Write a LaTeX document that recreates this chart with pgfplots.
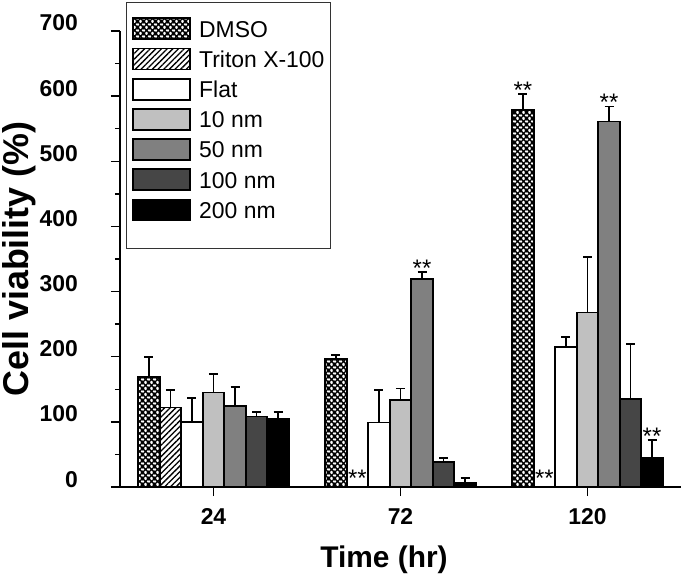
\documentclass[border=0pt]{standalone}
\usepackage{pgfplots}
\pgfplotsset{compat=1.18}
\usepackage{fontspec}
\setmainfont{Liberation Sans}
\usetikzlibrary{patterns.meta}
\pgfdeclarepattern{
  name=dmso,
  type=uncolored,
  bottom left={\pgfpoint{0bp}{0bp}},
  top right={\pgfpoint{5.5bp}{5.5bp}},
  tile size={\pgfpoint{5.5bp}{5.5bp}},
  code={
    \pgfsetlinewidth{1.5bp}
    \pgfpathmoveto{\pgfpoint{-1bp}{-1bp}}\pgfpathlineto{\pgfpoint{6.5bp}{6.5bp}}
    \pgfpathmoveto{\pgfpoint{-6.5bp}{-1bp}}\pgfpathlineto{\pgfpoint{1bp}{6.5bp}}
    \pgfpathmoveto{\pgfpoint{4.5bp}{-1bp}}\pgfpathlineto{\pgfpoint{12bp}{6.5bp}}
    \pgfpathmoveto{\pgfpoint{-1bp}{6.5bp}}\pgfpathlineto{\pgfpoint{6.5bp}{-1bp}}
    \pgfpathmoveto{\pgfpoint{-6.5bp}{6.5bp}}\pgfpathlineto{\pgfpoint{1bp}{-1bp}}
    \pgfpathmoveto{\pgfpoint{4.5bp}{6.5bp}}\pgfpathlineto{\pgfpoint{12bp}{-1bp}}
    \pgfusepath{stroke}
  }
}
\definecolor{g10}{HTML}{C0C0C0}
\definecolor{g50}{HTML}{808080}
\definecolor{g100}{HTML}{464646}
\pgfplotsset{
  lastlegend/.style={legend image code/.code={\draw[##1] (0bp,-10bp) rectangle (57bp,11bp); \path (0bp,-22bp);}},
}
\begin{document}
\begin{tikzpicture}
\useasboundingbox (-120bp,-91bp) rectangle (565bp,487bp);
\begin{axis}[
  at={(0,0)}, anchor=south west,
  scale only axis, width=561bp, height=456bp,
  ybar, bar width=0.115,
  xmin=-0.5, xmax=2.5, ymin=0, ymax=700,
  axis x line*=bottom, axis y line*=left,
  axis line style={line width=1.5bp, black},
  xtick={0,1,2}, xticklabels={24,72,120},
  ytick={0,100,...,700}, minor y tick num=1,
  tick align=outside, major tick length=9bp, minor tick length=5bp,
  tick style={line width=1.4bp, black},
  /pgf/number format/assume math mode=true,
  ticklabel style={font=\bfseries\fontsize{23}{23}\selectfont, inner sep=0pt},
  yticklabel style={anchor=base east, xshift=-33bp},
  xticklabel style={yshift=-12bp},
  xlabel={\bfseries Time (hr)},
  ylabel={\bfseries Cell viability (\%)},
  xlabel style={font=\fontsize{30}{30}\selectfont, at={(axis description cs:0.4706,-0.16)}, anchor=center},
  ylabel style={font=\fontsize{36}{36}\selectfont, at={(axis description cs:-0.18,0.5)}, anchor=center},
  every axis plot/.append style={draw=black, line width=1.7bp},
  legend image code/.code={\draw[#1] (0bp,-10bp) rectangle (57bp,11bp);},
  legend cell align=left,
  legend style={at={(0,1)}, anchor=north west, xshift=6bp, yshift=29bp,
    draw=black!80, line width=1bp, inner xsep=6bp, inner ysep=15bp,
    font=\fontsize{23}{23}\selectfont, row sep=7.5bp, column sep=8bp,
    nodes={inner sep=0pt, text height=16bp, text depth=0.5bp}},
  error bars/y dir=plus,
  error bars/y explicit,
  error bars/error mark=-,
  error bars/error bar style={line width=1.7bp, black, solid},
  error bars/error mark options={rotate=90, line width=1.7bp, black, mark size=4.5bp, solid},
]
\addplot[bar shift=-0.345, pattern=dmso, pattern color=black]
  table[x=x, y=y, y error=e] {
x y e
0 169 31
1 196 7
2 579 24
};
\addlegendentry{DMSO}
\addplot[bar shift=-0.23, pattern={Lines[angle=45, distance=4bp, line width=1.3bp]}, pattern color=black]
  table[x=x, y=y, y error=e] {
x y e
0 122 27
};
\addlegendentry{Triton X-100}
\addplot[bar shift=-0.115, fill=white]
  table[x=x, y=y, y error=e] {
x y e
0 100 37
1 99 50
2 215 15
};
\addlegendentry{Flat}
\addplot[bar shift=0, fill=g10]
  table[x=x, y=y, y error=e] {
x y e
0 145 29
1 134 17
2 268 85
};
\addlegendentry{10 nm}
\addplot[bar shift=0.115, fill=g50]
  table[x=x, y=y, y error=e] {
x y e
0 124 29
1 319 11
2 561 23
};
\addlegendentry{50 nm}
\addplot[bar shift=0.23, fill=g100]
  table[x=x, y=y, y error=e] {
x y e
0 108 7
1 38 6.5
2 135 84.5
};
\addlegendentry{100 nm}
\addplot[bar shift=0.345, fill=black, lastlegend]
  table[x=x, y=y, y error=e] {
x y e
0 104 11.5
1 7 7
2 45 27
};
\addlegendentry{200 nm}
\begin{scope}[every node/.style={font=\fontsize{24}{24}\selectfont, inner sep=0pt, anchor=base}]
\node[yshift=-4bp] at (axis cs:1.655,603) {**};
\node[yshift=-4bp] at (axis cs:1.115,330) {**};
\node[yshift=-4bp] at (axis cs:2.115,584) {**};
\node[yshift=-4bp] at (axis cs:2.345,72) {**};
\node[yshift=1bp] at (axis cs:0.77,0) {**};
\node[yshift=1bp] at (axis cs:1.77,0) {**};
\end{scope}
\end{axis}
\end{tikzpicture}
\end{document}
